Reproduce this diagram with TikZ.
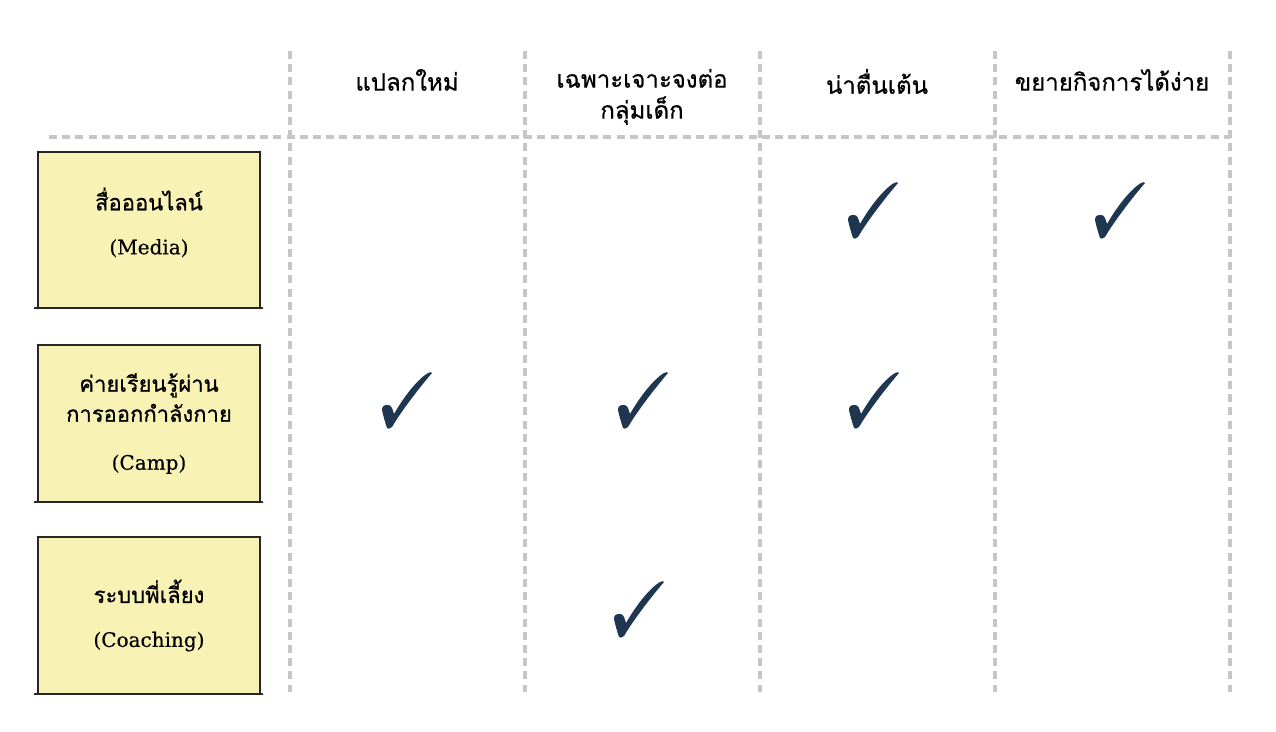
\documentclass[tikz,border=0pt]{standalone}
\usepackage{fontspec}
\newfontfamily\thaifont[Script=Thai,FakeBold=0.7]{Loma}
\newfontfamily\latinfont[FakeBold=0.4]{DejaVu Serif}
\usetikzlibrary{positioning}
\definecolor{gridgray}{HTML}{C6C6C6}
\definecolor{notefill}{HTML}{F8F3B5}
\definecolor{ticknavy}{HTML}{1F3651}
\newcommand{\eng}[1]{{\latinfont\fontsize{10pt}{12pt}\selectfont #1}}
\tikzset{
    grid line/.style={gridgray, line width=1.6pt, dash pattern=on 4pt off 2.6pt},
    note/.style={fill=notefill, minimum width=111pt, minimum height=78pt,
        inner sep=0pt, align=center, font=\thaifont\fontsize{11pt}{15pt}\selectfont},
    note edge/.style={black!85, line width=1pt, line cap=round},
    head/.style={anchor=north, align=center, font=\thaifont\fontsize{12pt}{15.5pt}\selectfont},
    tick/.pic={
        \fill[ticknavy] (-24,10) .. controls (-24,6) and (-22,5) .. (-18,5)
            .. controls (-16,5) and (-15,6) .. (-14,8) -- (-12,14)
            .. controls (-1,-5) and (12,-21) .. (22,-27)
            .. controls (24,-28) and (26,-28) .. (26,-27)
            .. controls (14,-13) and (-4,10) .. (-14,27)
            .. controls (-16,29) and (-18,29) .. (-19,28)
            .. controls (-21,22) and (-23,15) .. (-24,10) -- cycle;
    }
}
\begin{document}
\begin{tikzpicture}[x=0.5pt, y=-0.5pt]
    \useasboundingbox (0,0) rectangle (1276,732);
    % Grid
    \foreach \gx in {290,525,760,995,1230}
        \draw[grid line] (\gx,51) -- (\gx,692);
    \draw[grid line] (49,137) -- (1230,137);
    % Column heads
    \node[head] (h1) at (407,62) {แปลกใหม่};
    \node[head] (h2) at (642,62) {เฉพาะเจาะจงต่อ\\กลุ่มเด็ก};
    \node[head] (h3) at (877,62) {น่าตื่นเต้น};
    \node[head] (h4) at (1112,62) {ขยายกิจการได้ง่าย};
    % Row notes
    \node[note] (media) at (149,230) {สื่อออนไลน์\\[7pt]\eng{(Media)}\rule[-9pt]{0pt}{9pt}};
    \node[note] (camp) at (149,423.5) {ค่ายเรียนรู้ผ่าน\\การออกกำลังกาย\\[9pt]\eng{(Camp)}};
    \node[note] (coach) at (149,615.5) {ระบบพี่เลี้ยง\\[7pt]\eng{(Coaching)}};
    \foreach \n in {media,camp,coach}{
        \draw[note edge] (\n.north west) -- (\n.north east);
        \draw[note edge] ([xshift=-1.5pt]\n.south west) -- ([xshift=1pt]\n.south east);
        \draw[note edge] (\n.north west) -- (\n.south west);
        \draw[note edge] (\n.north east) -- (\n.south east);
    }
    % Ticks
    \pic at (872,210) {tick};
    \pic at (1119,210) {tick};
    \pic at (406,400) {tick};
    \pic at (642,400) {tick};
    \pic at (873,400) {tick};
    \pic at (638,609) {tick};
\end{tikzpicture}
\end{document}
